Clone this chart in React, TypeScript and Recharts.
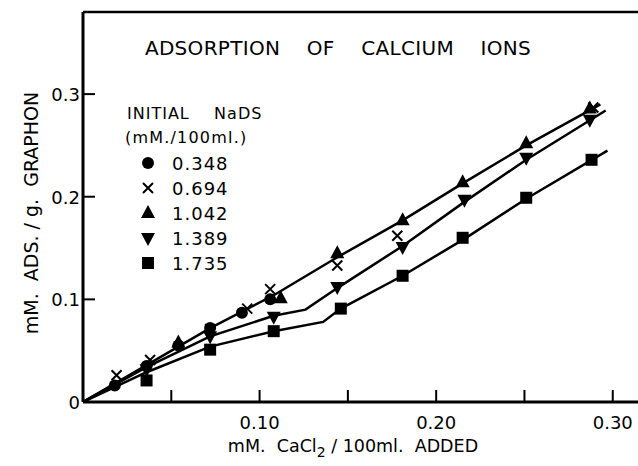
import { ComposedChart, ReferenceLine, Scatter, XAxis, YAxis } from "recharts";

const FONT = "'DejaVu Sans', sans-serif";

// measured points, one pair of arrays per NaDS level (mM./100ml.)
const circleX = [0.018, 0.036, 0.054, 0.072, 0.09, 0.106];
const circleY = [0.016, 0.035, 0.055, 0.072, 0.087, 0.1];

const crossX = [0.019, 0.038, 0.072, 0.093, 0.106, 0.144, 0.178, 0.289];
const crossY = [0.026, 0.041, 0.071, 0.091, 0.11, 0.133, 0.162, 0.287];

const triUpX = [0.054, 0.112, 0.144, 0.181, 0.215, 0.251, 0.287];
const triUpY = [0.058, 0.101, 0.145, 0.177, 0.214, 0.252, 0.286];

const triDownX = [0.036, 0.072, 0.108, 0.144, 0.181, 0.216, 0.251, 0.287];
const triDownY = [0.032, 0.064, 0.083, 0.112, 0.151, 0.197, 0.238, 0.275];

const squareX = [0.036, 0.072, 0.108, 0.146, 0.181, 0.215, 0.251, 0.288];
const squareY = [0.021, 0.051, 0.069, 0.091, 0.123, 0.16, 0.199, 0.236];

// hand drawn curves
const upperCurveX = [0, 0.036, 0.072, 0.108, 0.144, 0.181, 0.215, 0.251, 0.293];
const upperCurveY = [0, 0.036, 0.072, 0.104, 0.141, 0.177, 0.213, 0.25, 0.29];

const middleCurveX = [0, 0.036, 0.072, 0.108, 0.126, 0.144, 0.181, 0.216, 0.251, 0.296];
const middleCurveY = [0, 0.034, 0.064, 0.084, 0.09, 0.111, 0.152, 0.195, 0.236, 0.284];

const lowerCurveX = [0, 0.036, 0.072, 0.108, 0.136, 0.146, 0.181, 0.216, 0.251, 0.297];
const lowerCurveY = [0, 0.029, 0.054, 0.069, 0.078, 0.091, 0.123, 0.159, 0.198, 0.245];

const xTicks = [0.05, 0.1, 0.15, 0.2, 0.25, 0.3];
const xTickLabels = ["", "0.10", "", "0.20", "", "0.30"];
const yTicks = [0, 0.1, 0.2, 0.3];
const yTickLabels = ["0", "0.1", "0.2", "0.3"];

const legendLabels = ["0.348", "0.694", "1.042", "1.389", "1.735"];
const legendShapes = ["circle", "cross", "up", "down", "square"];

const pairs = (xs: number[], ys: number[]) => xs.map((x, i) => ({ x, y: ys[i] }));

function Marker({ kind, cx, cy }: { kind: string; cx: number; cy: number }) {
  if (kind === "circle") return <circle cx={cx} cy={cy} r={6} fill="#000" />;
  if (kind === "cross")
    return (
      <path
        d={`M${cx - 5},${cy - 5}L${cx + 5},${cy + 5}M${cx + 5},${cy - 5}L${cx - 5},${cy + 5}`}
        stroke="#000"
        strokeWidth={2}
      />
    );
  if (kind === "up")
    return <path d={`M${cx},${cy - 8}L${cx + 7},${cy + 5}L${cx - 7},${cy + 5}Z`} fill="#000" />;
  if (kind === "down")
    return <path d={`M${cx - 7},${cy - 5}L${cx + 7},${cy - 5}L${cx},${cy + 8}Z`} fill="#000" />;
  return <rect x={cx - 6} y={cy - 6} width={12} height={12} fill="#000" />;
}

const shapeOf = (kind: string) => (p: any) => <Marker kind={kind} cx={p.cx} cy={p.cy} />;

function XTick(props: any) {
  const { x, y, index } = props;
  return (
    <g>
      <line x1={x} y1={y} x2={x} y2={y - 12} stroke="#000" strokeWidth={2} />
      <text x={x} y={y + 27} textAnchor="middle" fontFamily={FONT} fontSize={18}>
        {xTickLabels[index]}
      </text>
    </g>
  );
}

function YTick(props: any) {
  const { x, y, index } = props;
  return (
    <g>
      {index > 0 && <line x1={x} y1={y} x2={x + 12} y2={y} stroke="#000" strokeWidth={2} />}
      <text x={x - 3} y={y + 7} textAnchor="end" fontFamily={FONT} fontSize={18}>
        {yTickLabels[index]}
      </text>
    </g>
  );
}

const noDot = () => <g />;
const curveStyle = { stroke: "#000", strokeWidth: 2.5 };

export default function App() {
  return (
    <div style={{ position: "absolute", left: 0, top: 0, width: 638, height: 466, background: "#fff" }}>
      <ComposedChart width={638} height={466} margin={{ top: 12, right: 0, bottom: 0, left: 0 }}>
        <XAxis
          type="number"
          dataKey="x"
          domain={[0, 0.3143]}
          ticks={xTicks}
          tick={<XTick />}
          tickLine={false}
          tickSize={0}
          tickMargin={0}
          height={64}
          axisLine={{ stroke: "#000", strokeWidth: 3 }}
          allowDataOverflow
        />
        <YAxis
          type="number"
          dataKey="y"
          domain={[0, 0.38]}
          ticks={yTicks}
          tick={<YTick />}
          tickLine={false}
          tickSize={0}
          tickMargin={0}
          width={83}
          axisLine={{ stroke: "#000", strokeWidth: 3 }}
          allowDataOverflow
        />
        <ReferenceLine y={0.38} stroke="#000" strokeWidth={2.5} />
        <Scatter data={pairs(upperCurveX, upperCurveY)} line={curveStyle} shape={noDot} isAnimationActive={false} />
        <Scatter data={pairs(middleCurveX, middleCurveY)} line={curveStyle} shape={noDot} isAnimationActive={false} />
        <Scatter data={pairs(lowerCurveX, lowerCurveY)} line={curveStyle} shape={noDot} isAnimationActive={false} />
        <Scatter data={pairs(circleX, circleY)} shape={shapeOf("circle")} isAnimationActive={false} />
        <Scatter data={pairs(crossX, crossY)} shape={shapeOf("cross")} isAnimationActive={false} />
        <Scatter data={pairs(triUpX, triUpY)} shape={shapeOf("up")} isAnimationActive={false} />
        <Scatter data={pairs(triDownX, triDownY)} shape={shapeOf("down")} isAnimationActive={false} />
        <Scatter data={pairs(squareX, squareY)} shape={shapeOf("square")} isAnimationActive={false} />
      </ComposedChart>
      <svg
        width={638}
        height={466}
        style={{ position: "absolute", left: 0, top: 0, pointerEvents: "none" }}
        fontFamily={FONT}
      >
        <text x={338} y={55} textAnchor="middle" fontSize={20} letterSpacing={0.3} xmlSpace="preserve">
          ADSORPTION    OF    CALCIUM    IONS
        </text>
        <text x={127} y={119} fontSize={16} letterSpacing={1} xmlSpace="preserve">
          INITIAL    NaDS
        </text>
        <text x={125} y={143} fontSize={16} letterSpacing={1.2}>
          (mM./100ml.)
        </text>
        {legendLabels.map((label, i) => (
          <g key={label}>
            <Marker kind={legendShapes[i]} cx={148} cy={163 + i * 25} />
            <text x={172} y={170 + i * 25} fontSize={18} letterSpacing={1}>
              {label}
            </text>
          </g>
        ))}
        <text x={353} y={452} textAnchor="middle" fontSize={17.5} xmlSpace="preserve">
          mM.  CaCl<tspan dy={5} fontSize={14}>2</tspan>
          <tspan dy={-5}> / 100ml.  ADDED</tspan>
        </text>
        <text
          transform="translate(38,213) rotate(-90)"
          textAnchor="middle"
          fontSize={19}
          xmlSpace="preserve"
        >
          mM.  ADS. / g.  GRAPHON
        </text>
      </svg>
    </div>
  );
}
